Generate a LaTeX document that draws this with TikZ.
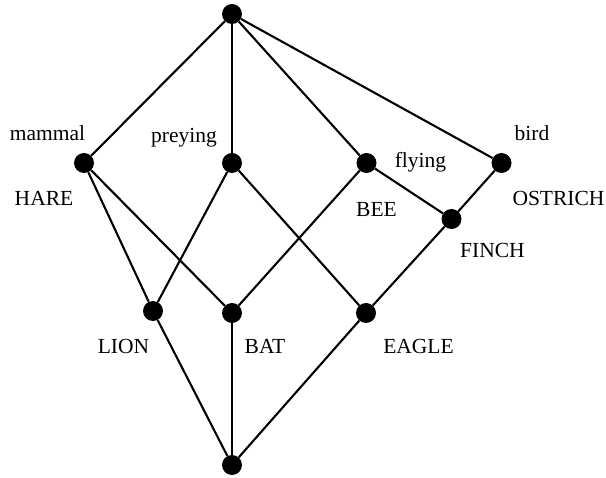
\documentclass[tikz,border=0pt]{standalone}
\usepackage{fontspec}
\setmainfont{Liberation Serif}
\begin{document}
\begin{tikzpicture}[x=1pt,y=-1pt,
  dot/.style={circle,fill=black,inner sep=0pt,minimum size=20pt},
  lab/.style={font=\fontsize{21.5}{25}\selectfont,inner sep=0pt},
  edge/.style={line width=2.1pt}]
\useasboundingbox (0,0) rectangle (606,478);
\node[dot] (top) at (232,14) {};
\node[dot] (mammal) at (84,163) {};
\node[dot] (preying) at (232,163) {};
\node[dot] (flying) at (366.5,163) {};
\node[dot] (bird) at (501.5,163) {};
\node[dot] (finch) at (451.5,219) {};
\node[dot] (lion) at (153,311) {};
\node[dot] (bat) at (232,313) {};
\node[dot] (eagle) at (366,313) {};
\node[dot] (bottom) at (232,465) {};

\draw[edge] (top) -- (mammal);
\draw[edge] (top) -- (preying);
\draw[edge] (top) -- (flying);
\draw[edge] (top) -- (bird);
\draw[edge] (mammal) -- (lion);
\draw[edge] (mammal) -- (bat);
\draw[edge] (preying) -- (lion);
\draw[edge] (preying) -- (eagle);
\draw[edge] (flying) -- (bat);
\draw[edge] (flying) -- (finch);
\draw[edge] (bird) -- (finch);
\draw[edge] (finch) -- (eagle);
\draw[edge] (lion) -- (bottom);
\draw[edge] (bat) -- (bottom);
\draw[edge] (eagle) -- (bottom);

\node[lab] (lmammal) at (47.5,133) {mammal};
\node[lab] (lhare) at (44,198) {HARE};
\node[lab] (lpreying) at (184,138) {preying};
\node[lab] (lflying) at (420.5,162) {flying};
\node[lab] (lbird) at (532,133) {bird};
\node[lab] (lbee) at (376.5,209) {BEE};
\node[lab] (lostrich) at (558.5,198) {OSTRICH};
\node[lab] (lfinch) at (492.5,250) {FINCH};
\node[lab] (llion) at (123.5,346) {LION};
\node[lab] (lbat) at (265,346) {BAT};
\node[lab] (leagle) at (418.5,346) {EAGLE};
\end{tikzpicture}
\end{document}
